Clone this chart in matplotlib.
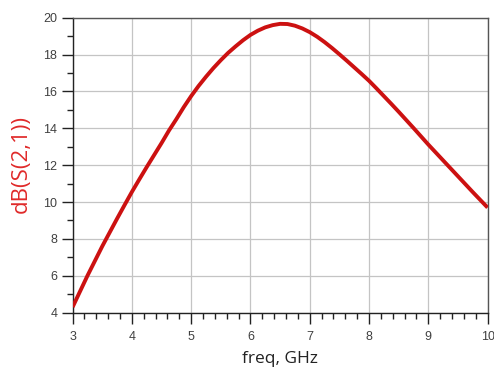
import numpy as np
import matplotlib.pyplot as plt
from matplotlib.ticker import MultipleLocator

# S21 sweep, values in dB
freq_ghz = [3.0, 3.125, 3.25, 3.375, 3.5, 3.625, 3.75, 3.875,
            4.0, 4.125, 4.25, 4.375, 4.5, 4.625, 4.75, 4.875,
            5.0, 5.125, 5.25, 5.375, 5.5, 5.625, 5.75, 5.875,
            6.0, 6.125, 6.25, 6.375, 6.5, 6.625, 6.75, 6.875,
            7.0, 7.125, 7.25, 7.375, 7.5, 7.625, 7.75, 7.875,
            8.0, 8.125, 8.25, 8.375, 8.5, 8.625, 8.75, 8.875,
            9.0, 9.125, 9.25, 9.375, 9.5, 9.625, 9.75, 9.875, 10.0]
s21_db = [4.3, 5.15, 6.0, 6.8, 7.6, 8.35, 9.1, 9.83,
          10.55, 11.23, 11.9, 12.55, 13.2, 13.88, 14.5, 15.15,
          15.75, 16.3, 16.8, 17.27, 17.7, 18.1, 18.45, 18.78,
          19.07, 19.3, 19.48, 19.6, 19.67, 19.66, 19.57, 19.42,
          19.22, 18.97, 18.68, 18.36, 18.02, 17.67, 17.31, 16.95,
          16.58, 16.17, 15.75, 15.33, 14.9, 14.46, 14.02, 13.57,
          13.12, 12.69, 12.26, 11.83, 11.4, 10.97, 10.54, 10.12, 9.7]

plt.rcParams['font.family'] = ['Liberation Sans', 'DejaVu Sans']

fig = plt.figure(figsize=(4.94, 3.78), dpi=100)
ax = fig.add_axes([0.147, 0.173, 0.84, 0.780])

ax.plot(freq_ghz, s21_db, color='#cc1111', lw=2.8, solid_capstyle='butt', zorder=3)

ax.set_xlim(3, 10)
ax.set_ylim(4, 20)
ax.xaxis.set_major_locator(MultipleLocator(1))
ax.xaxis.set_minor_locator(MultipleLocator(0.2))
ax.yaxis.set_major_locator(MultipleLocator(2))
ax.yaxis.set_minor_locator(MultipleLocator(1))

ax.grid(which='major', color='#c4c4c4', lw=0.9)
ax.set_axisbelow(True)

for side in ('left', 'bottom'):
    ax.spines[side].set_color('#222222')
    ax.spines[side].set_linewidth(1.0)
for side in ('top', 'right'):
    ax.spines[side].set_color('#555555')
    ax.spines[side].set_linewidth(1.0)

ax.tick_params(axis='both', which='major', direction='out', length=8, width=1.0,
               color='#222222', labelsize=9, labelcolor='#404040')
ax.tick_params(axis='both', which='minor', direction='out', length=4.5, width=1.0,
               color='#222222')
ax.tick_params(axis='x', which='major', pad=5)
ax.tick_params(axis='y', which='major', pad=3)

fig.text(0.566, 0.028, 'freq, GHz', ha='center', va='bottom', fontsize=12.5,
         color='#222222', family=['Open Sans', 'DejaVu Sans'])
fig.text(0.043, 0.566, 'dB(S(2,1))', ha='center', va='center', rotation=90,
         fontsize=16, color='#e02a2a', family=['Open Sans', 'DejaVu Sans'])

fig.savefig('out.png', dpi=100, facecolor='white')
